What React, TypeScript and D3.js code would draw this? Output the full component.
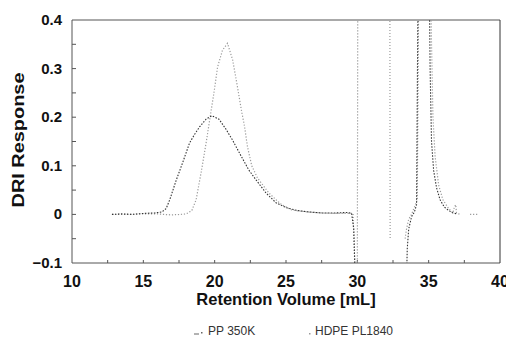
import * as d3 from "d3"
import React, { useEffect, useRef } from "react"

// PP 350K (dark trace)
const ppX = [12.8, 13.5, 14.2, 15.0, 15.8, 16.3, 16.6, 16.85, 17.3, 17.75, 18.24, 18.6, 18.94, 19.4, 19.8, 20.3, 20.8, 21.25, 21.8, 22.4, 22.9, 23.6, 24.3, 25.0, 25.8, 26.6, 27.5, 28.5, 29.3, 29.6, 29.75, 29.85, 33.45, 33.5, 33.6, 33.8, 34.0, 34.15, 34.25, 35.05, 35.1, 35.2, 35.35, 35.55, 35.8, 36.1, 36.4, 36.7, 37.0]
const ppY = [0.0, 0.001, 0.0, 0.002, 0.003, 0.005, 0.012, 0.03, 0.07, 0.106, 0.147, 0.165, 0.18, 0.196, 0.203, 0.196, 0.175, 0.153, 0.123, 0.091, 0.071, 0.044, 0.024, 0.014, 0.008, 0.005, 0.003, 0.003, 0.004, 0.002, -0.03, -0.13, -0.13, -0.07, -0.03, -0.005, 0.005, 0.02, 0.45, 0.45, 0.3, 0.15, 0.09, 0.055, 0.03, 0.015, 0.008, 0.003, 0.001]

// HDPE PL1840 (grey trace)
const hdX = [12.8, 14.0, 15.0, 16.0, 16.4, 17.0, 17.6, 18.0, 18.4, 18.7, 19.08, 19.4, 19.76, 19.98, 20.2, 20.55, 20.9, 21.26, 21.6, 21.87, 22.1, 22.3, 22.6, 23.0, 23.8, 24.6, 25.4, 26.5, 27.5, 28.5, 29.7, 29.85, 30.0, 30.03, 32.28, 32.3, 32.31, 33.35, 33.45, 33.6, 33.8, 34.0, 34.2, 34.3, 35.15, 35.2, 35.3, 35.45, 35.7, 36.0, 36.4, 36.7, 36.8, 36.9, 36.95, 37.2, 37.21, 37.9, 38.5]
const hdY = [0.0, 0.0, 0.001, 0.001, 0.0, -0.001, 0.0, 0.001, 0.008, 0.03, 0.091, 0.147, 0.215, 0.256, 0.303, 0.338, 0.352, 0.318, 0.262, 0.215, 0.18, 0.139, 0.1, 0.075, 0.044, 0.022, 0.009, 0.005, 0.003, 0.002, 0.002, -0.13, -0.13, 0.45, 0.45, -0.05, null, -0.05, -0.03, -0.01, 0.0, 0.015, 0.03, 0.45, 0.45, 0.35, 0.2, 0.12, 0.06, 0.03, 0.012, 0.003, 0.015, 0.02, 0.003, 0.0, null, 0.0, 0.0]

const xTicks = [10, 15, 20, 25, 30, 35, 40]
const yTicks = [-0.1, 0, 0.1, 0.2, 0.3, 0.4]
const xMinor = [12.5, 15, 17.5, 20, 22.5, 25, 27.5, 30, 32.5, 35, 37.5]
const yMinor = [-0.05, 0, 0.05, 0.1, 0.15, 0.2, 0.25, 0.3, 0.35]

const W = 506
const H = 338

const App = () => {
  const ref = useRef<SVGSVGElement>(null)

  useEffect(() => {
    const svg = d3.select(ref.current)
    svg.selectAll("*").remove()

    const x = d3.scaleLinear().domain([10, 40]).range([72, 500])
    const y = d3.scaleLinear().domain([-0.1, 0.4]).range([263, 20])
    const font = "Arial, 'Liberation Sans', sans-serif"

    svg.append("rect").attr("width", W).attr("height", H).attr("fill", "#fff")

    svg
      .append("clipPath")
      .attr("id", "plotclip")
      .append("rect")
      .attr("x", x(10))
      .attr("y", y(0.4))
      .attr("width", x(40) - x(10))
      .attr("height", y(-0.1) - y(0.4))

    // frame
    const frame = svg.append("g").attr("stroke", "#555").attr("stroke-width", 1).attr("fill", "none")
    frame.append("line").attr("x1", x(10)).attr("x2", x(40)).attr("y1", y(0.4)).attr("y2", y(0.4))
    frame.append("line").attr("x1", x(10)).attr("x2", x(40)).attr("y1", y(-0.1)).attr("y2", y(-0.1))
    frame.append("line").attr("x1", x(10)).attr("x2", x(10)).attr("y1", y(0.4)).attr("y2", y(-0.1))
    frame.append("line").attr("x1", x(40)).attr("x2", x(40)).attr("y1", y(0.4)).attr("y2", y(-0.1)).attr("stroke", "#333")

    // minor ticks
    frame
      .selectAll(".ym")
      .data(yMinor)
      .enter()
      .append("line")
      .attr("x1", x(10))
      .attr("x2", x(10) + 4)
      .attr("y1", (d) => y(d))
      .attr("y2", (d) => y(d))
    frame
      .selectAll(".xm")
      .data(xMinor)
      .enter()
      .append("line")
      .attr("x1", (d) => x(d))
      .attr("x2", (d) => x(d))
      .attr("y1", y(-0.1))
      .attr("y2", y(-0.1) - 3)

    // tick labels
    svg
      .append("g")
      .selectAll("text")
      .data(yTicks)
      .enter()
      .append("text")
      .attr("x", 62)
      .attr("y", (d) => y(d) + 5)
      .attr("text-anchor", "end")
      .attr("font-family", font)
      .attr("font-weight", "bold")
      .attr("font-size", 15)
      .attr("fill", "#111")
      .text((d) => (d === 0 ? "0" : d3.format(".1f")(d)))

    svg
      .append("g")
      .selectAll("text")
      .data(xTicks)
      .enter()
      .append("text")
      .attr("x", (d) => x(d))
      .attr("y", 287)
      .attr("text-anchor", "middle")
      .attr("font-family", font)
      .attr("font-weight", "bold")
      .attr("font-size", 16)
      .attr("fill", "#111")
      .text((d) => d)

    // axis titles
    svg
      .append("text")
      .attr("x", 286)
      .attr("y", 305)
      .attr("text-anchor", "middle")
      .attr("font-family", font)
      .attr("font-weight", "bold")
      .attr("font-size", 16.5)
      .attr("fill", "#111")
      .text("Retention Volume [mL]")

    svg
      .append("text")
      .attr("transform", "translate(24,140) rotate(-90)")
      .attr("text-anchor", "middle")
      .attr("font-family", font)
      .attr("font-weight", "bold")
      .attr("font-size", 16.5)
      .attr("textLength", 135)
      .attr("lengthAdjust", "spacingAndGlyphs")
      .attr("fill", "#111")
      .text("DRI Response")

    // traces
    const mk = (xs: number[], ys: (number | null)[]) =>
      xs.map((v, i) => ({ x: v, y: ys[i] }))

    const line = d3
      .line<{ x: number; y: number | null }>()
      .defined((d) => d.y !== null)
      .x((d) => x(d.x))
      .y((d) => y(d.y as number))

    const plot = svg.append("g").attr("clip-path", "url(#plotclip)")

    plot
      .append("path")
      .datum(mk(hdX, hdY))
      .attr("fill", "none")
      .attr("stroke", "#9a9a9a")
      .attr("stroke-width", 1.2)
      .attr("stroke-dasharray", "1.2,1.8")
      .attr("d", line)

    plot
      .append("path")
      .datum(mk(ppX, ppY))
      .attr("fill", "none")
      .attr("stroke", "#333")
      .attr("stroke-width", 1.1)
      .attr("stroke-dasharray", "1.5,1.5")
      .attr("d", line)

    // legend
    const leg = svg.append("g").attr("font-family", font).attr("font-size", 12).attr("fill", "#333")
    leg.append("line").attr("x1", 194).attr("x2", 199).attr("y1", 334).attr("y2", 334).attr("stroke", "#666")
    leg.append("rect").attr("x", 201).attr("y", 332).attr("width", 1.5).attr("height", 1.5).attr("fill", "#666")
    leg.append("text").attr("x", 208).attr("y", 335).text("PP 350K")
    leg.append("rect").attr("x", 309).attr("y", 333).attr("width", 1.5).attr("height", 1.5).attr("fill", "#999")
    leg.append("text").attr("x", 315).attr("y", 335).text("HDPE PL1840")
  }, [])

  return (
    <svg
      ref={ref}
      width={W}
      height={H}
      viewBox={`0 0 ${W} ${H}`}
      style={{ position: "absolute", left: 0, top: 0, display: "block" }}
    />
  )
}

export default App
